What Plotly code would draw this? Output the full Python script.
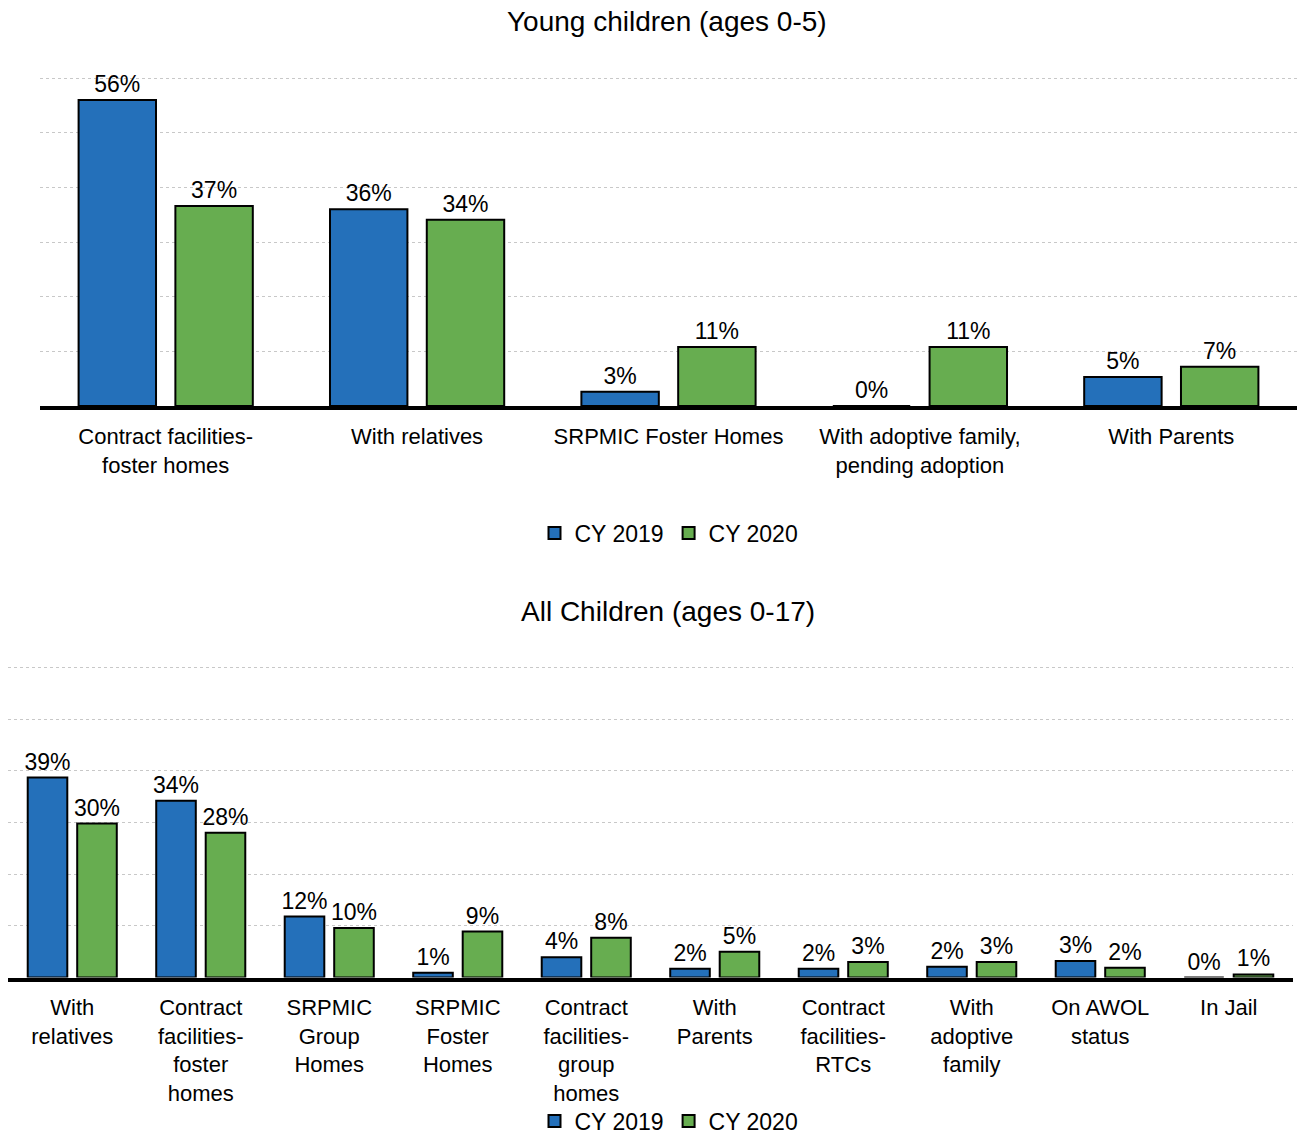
import plotly.graph_objects as go

# ---- data ----
top_categories = ["Contract facilities-<br>foster homes", "With relatives", "SRPMIC Foster Homes",
                  "With adoptive family,<br>pending adoption", "With Parents"]
top_2019 = [56, 36, 2.6, 0, 5.3]
top_2020 = [36.6, 34.1, 10.8, 10.8, 7.2]

bot_categories = ["With<br>relatives", "Contract<br>facilities-<br>foster<br>homes", "SRPMIC<br>Group<br>Homes",
                  "SRPMIC<br>Foster<br>Homes", "Contract<br>facilities-<br>group<br>homes", "With<br>Parents",
                  "Contract<br>facilities-<br>RTCs", "With<br>adoptive<br>family", "On AWOL<br>status", "In Jail"]
bot_2019 = [38.7, 34.2, 11.8, 0.9, 3.9, 1.7, 1.7, 2.1, 3.2, 0]
bot_2020 = [29.8, 28.0, 9.6, 8.9, 7.7, 5.0, 3.0, 3.0, 1.9, 0.6]

series_names = ["CY 2019", "CY 2020"]
titles = ["Young children (ages 0-5)", "All Children (ages 0-17)"]

BLUE = "#2470BA"
GREEN = "#67AD50"
FONT = "Arial, Liberation Sans, sans-serif"

W, H = 1300, 1135


def lbl(vals):
    return [f"{round(v)}%" for v in vals]


fig = go.Figure()

for name, vals, col in [(series_names[0], top_2019, BLUE), (series_names[1], top_2020, GREEN)]:
    fig.add_trace(go.Bar(x=top_categories, y=vals, name=name, marker=dict(color=col, line=dict(color="black", width=2)),
                         text=lbl(vals), textposition="outside", cliponaxis=False, constraintext="none",
                         textfont=dict(size=23, color="black", family=FONT),
                         xaxis="x", yaxis="y", legend="legend"))

for name, vals, col in [(series_names[0], bot_2019, BLUE), (series_names[1], bot_2020, GREEN)]:
    fig.add_trace(go.Bar(x=bot_categories, y=vals, name=name, marker=dict(color=col, line=dict(color="black", width=2)),
                         text=lbl(vals), textposition="outside", cliponaxis=False, constraintext="none",
                         textfont=dict(size=23, color="black", family=FONT),
                         xaxis="x2", yaxis="y2", legend="legend2"))


def px_x(p):
    return p / W


def px_y(p):
    return 1 - p / H


xcommon = dict(showline=True, linewidth=4, linecolor="black", showgrid=False, ticks="outside", ticklen=8,
               tickcolor="rgba(0,0,0,0)", tickfont=dict(size=22, color="black", family=FONT), fixedrange=True)
ycommon = dict(range=[0, 60.3], tickvals=[10, 20, 30, 40, 50, 60], showgrid=True, gridcolor="#C8C8C8",
               griddash="dot", gridwidth=1, showticklabels=False, zeroline=False, showline=False, fixedrange=True)

legend_common = dict(orientation="h", xanchor="center", yanchor="middle", bgcolor="rgba(0,0,0,0)",
                     font=dict(size=23, color="black", family=FONT), itemwidth=30, traceorder="normal",
                     tracegroupgap=0)

fig.update_layout(
    width=W, height=H,
    margin=dict(l=0, r=0, t=0, b=0, pad=0, autoexpand=False),
    paper_bgcolor="white", plot_bgcolor="white",
    barmode="group", bargap=0.23, bargroupgap=0.2,
    font=dict(family=FONT, color="black"),
    xaxis=dict(domain=[px_x(40), px_x(1297)], anchor="y", automargin=False, **xcommon),
    yaxis=dict(domain=[px_y(406), px_y(76.5)], anchor="x", automargin=False, **ycommon),
    xaxis2=dict(domain=[px_x(8), px_x(1293)], anchor="y2", automargin=False,
                **{**xcommon, "ticklen": 7}),
    yaxis2=dict(domain=[px_y(977.5), px_y(666)], anchor="x2", automargin=False, **ycommon),
    legend=dict(x=px_x(669), y=px_y(533), **legend_common),
    legend2=dict(x=px_x(669), y=px_y(1121), **legend_common),
    showlegend=True,
    annotations=[
        dict(text=titles[0], x=px_x(667), y=px_y(22), xref="paper", yref="paper", showarrow=False,
             xanchor="center", yanchor="middle", font=dict(size=28, color="black", family=FONT)),
        dict(text=titles[1], x=px_x(668), y=px_y(611), xref="paper", yref="paper", showarrow=False,
             xanchor="center", yanchor="middle", font=dict(size=28, color="black", family=FONT)),
    ],
)

page_fix = """
(function(){
  var h = document.documentElement, b = document.body;
  [h, b].forEach(function(e){ e.style.margin='0'; e.style.padding='0'; e.style.overflow='hidden'; });
})();
"""

fig.write_html("out.html", config={"displayModeBar": False}, post_script=page_fix)
